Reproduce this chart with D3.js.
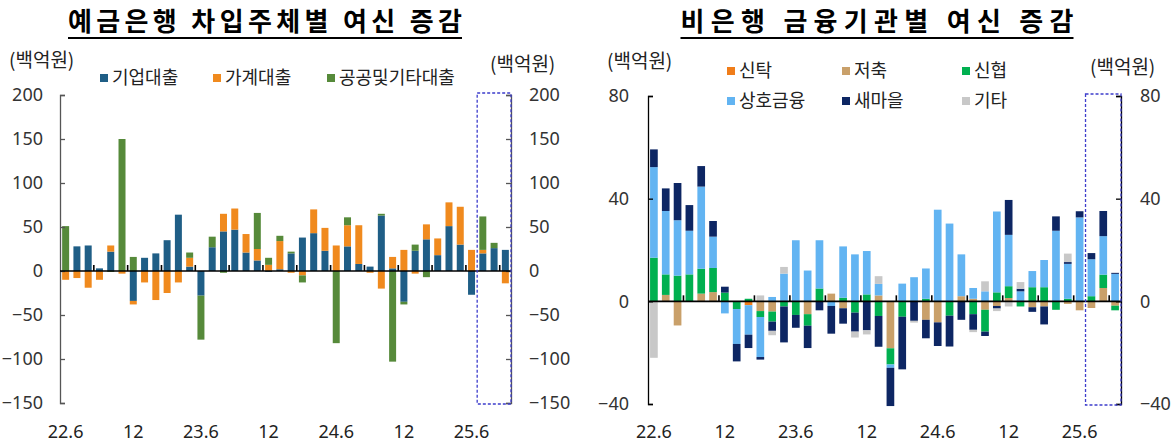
<!DOCTYPE html>
<html><head><meta charset="utf-8">
<script src="https://cdn.jsdelivr.net/npm/d3@7"></script>
<style>
html,body{margin:0;padding:0;background:#fff;}
svg{display:block;font-family:'Noto Sans CJK KR','Noto Sans',sans-serif;}
</style></head>
<body>
<svg id="chart" width="1174" height="443"></svg>
<script>
// ---------------- DATA ----------------
const categories = ["22.6","22.7","22.8","22.9","22.10","22.11","22.12",
  "23.1","23.2","23.3","23.4","23.5","23.6","23.7","23.8","23.9","23.10","23.11","23.12",
  "24.1","24.2","24.3","24.4","24.5","24.6","24.7","24.8","24.9","24.10","24.11","24.12",
  "25.1","25.2","25.3","25.4","25.5","25.6","25.7","25.8","25.9"];
const tickCats = ["22.6","22.12","23.6","23.12","24.6","24.12","25.6"];
const tickTexts = ["22.6","12","23.6","12","24.6","12","25.6"];
const highlightCats = ["25.7","25.8","25.9"];

// Left panel: 예금은행 차입주체별 (백억원)
const leftTitle = "예금은행 차입주체별 여신 증감";
const leftSeriesNames = ["기업대출","가계대출","공공및기타대출"];
const corpLoans = [0,28,29,3,22,0,-34,15,20,35,64,5,-28,27,45,47,21,12,-1,2,
  20,38,43,23,0,28,8,5,63,3,-35,23,36,18,51,30,-27,20,26,24];
const householdLoans = [-10,-8,-19,-10,7,-3,-4,-13,-33,-25,-13,10,0,0,20,24,21,13,7,32,
  -2,-5,27,26,29,24,44,-2,-20,13,24,-3,17,19,27,43,24,4,0,-14];
const publicOtherLoans = [51,0,0,0,-1,150,16,0,0,0,0,6,-50,12,-2,0,0,41,8,6,
  2,-8,0,0,-82,9,0,0,2,-103,-3,7,-7,0,0,0,0,38,6,0];
const leftTicks = [-150,-100,-50,0,50,100,150,200];

// Right panel: 비은행 금융기관별 (백억원)
const rightTitle = "비은행 금융기관별 여신 증감";
const rightSeriesNames = ["신탁","저축","신협","상호금융","새마을","기타"];
const trust = [0,0,0,0,0,0,0,0,-1.5,0,0,0,0,0,0,0,0,0,0,0,
  0,0,0,0,0,0,0,0,0,0,0,0,0,0,0,0,0,0,0,0];
const savingsBanks = [0,2.5,-9.4,0,3,3.6,0,0,0,-3.8,-4,0,0,-5,0,3,-2.7,0,0,2.3,
  -18.3,0,0,-7.2,-8.2,0,2,1,-3.3,-1.8,1.3,0,-2.3,-2,0,-1,-3.5,-2.6,5.2,-1.7];
const creditUnions = [17,8,10,10.5,9.7,9.4,3.4,-3,1,-2.3,-3.9,-2,-5.3,-4.5,5,0,1.4,-4.4,2.7,-5.7,
  -6.3,-6,0,1,0,-5.6,0,-5,-8.5,3.5,4.6,-2,5.5,5.5,-3.3,1,0,2,5.2,-1.8];
const mutualFinance = [35.3,24.7,21.6,17,32,12.2,-4.7,-13.6,-11.5,-15.6,1.7,10.8,23.8,12,18.8,-1.8,20,18.3,16.9,4.5,
  -1.3,6.9,9.4,11.8,35.7,30.3,16.3,4.2,3.9,31.5,20,3.9,6.3,10.6,27.5,13.6,32.7,14.4,15,10.7];
const saemaul = [6.9,8.8,14.5,10,8,6.1,2.3,-6.8,-5.2,-1,-3.6,-14,-5,-8.7,-3.5,-10.8,-6,-7.4,-11.3,-12,
  -14.9,-20.5,-7.6,-7.2,-9.2,-12,-7.2,-6.1,-1.7,-1,13.6,1,-1.8,-7,5.6,0.7,2.4,2.4,9.8,0.4];
const others = [-22,0,0,0,0,0,0,0,0,2.3,-1.7,2.6,0,0,0,0,0,-2.3,-1.6,3,
  0,0,-0.7,0,0,0,0,-0.9,3.9,-1,-2,2.6,0,0,0,3.3,0,0,0,0];
const rightTicks = [-40,0,40,80];

// ---------------- STYLE ----------------
const leftColors = ["#1F5E86","#F08A1E","#568A3A"];
const rightColors = ["#F07D1A","#C9A06A","#00B050","#62B4F2","#0D2663","#C8C8C8"];
const unitLabel = "(백억원)";

const svg = d3.select("#chart");

function buildRows(names, arrays){
  return categories.map((c,i)=>{
    const r = {cat:c};
    names.forEach((n,j)=>{ r[n]=arrays[j][i]; });
    return r;
  });
}

function drawPanel(cfg){
  const g = svg.append("g");
  const x = d3.scaleBand().domain(categories).range(cfg.xRange)
    .paddingInner(cfg.pad).paddingOuter(cfg.pad/2);
  const y = d3.scaleLinear().domain(cfg.yDomain).range(cfg.yRange);
  const rows = buildRows(cfg.names, cfg.arrays);
  const stack = d3.stack().keys(cfg.names).offset(d3.stackOffsetDiverging);
  const series = stack(rows);

  // bars
  g.selectAll("g.series").data(series).join("g")
    .attr("fill",(d,i)=>cfg.colors[i])
    .selectAll("rect").data(d=>d).join("rect")
    .attr("x",d=>x(d.data.cat))
    .attr("width",x.bandwidth())
    .attr("y",d=>y(Math.max(d[0],d[1])))
    .attr("height",d=>Math.abs(y(d[0])-y(d[1])));

  // axes
  const axL = g.append("g").attr("transform",`translate(${cfg.xRange[0]},0)`)
    .call(d3.axisLeft(y).tickValues(cfg.ticks).tickSize(-5).tickPadding(cfg.tickPadL).tickFormat(d3.format("d")));
  const axR = g.append("g").attr("transform",`translate(${cfg.xRange[1]},0)`)
    .call(d3.axisRight(y).tickValues(cfg.ticks).tickSize(-5).tickPadding(cfg.tickPadR).tickFormat(d3.format("d")));
  [axL,axR].forEach(a=>{
    a.select(".domain").attr("stroke",cfg.axisColor).attr("stroke-width",1.3);
    a.selectAll(".tick line").attr("stroke",cfg.axisColor).attr("stroke-width",1.3);
    a.selectAll(".tick text").attr("fill","#333").style("font-size","18px")
      .style("font-family","'Noto Sans','Noto Sans CJK KR',sans-serif");
  });

  // zero line
  const y0 = y(0);
  g.append("line").attr("x1",cfg.xRange[0]).attr("x2",cfg.xRange[1])
    .attr("y1",y0).attr("y2",y0).attr("stroke","#000").attr("stroke-width",1.6);
  // small ticks every 3 months
  const step = x.step();
  d3.range(3,categories.length,3).forEach(k=>{
    const xx = cfg.xRange[0]+k*step;
    g.append("line").attr("x1",xx).attr("x2",xx).attr("y1",y0).attr("y2",y0-6)
      .attr("stroke","#000").attr("stroke-width",1.6);
  });

  // x labels
  const ax = g.append("g").attr("transform",`translate(0,${cfg.xLabelY})`)
    .call(d3.axisBottom(x).tickValues(tickCats).tickSize(0).tickPadding(0)
      .tickFormat(d=>tickTexts[tickCats.indexOf(d)]));
  ax.select(".domain").remove();
  ax.selectAll(".tick text").attr("fill","#222").style("font-size","18px")
    .style("font-family","'Noto Sans','Noto Sans CJK KR',sans-serif");

  // highlight dashed box
  const hx0 = x(highlightCats[0]) - x.step()*cfg.pad/2;
  const hx1 = x(highlightCats[highlightCats.length-1]) + x.bandwidth() + x.step()*cfg.pad/2;
  g.append("rect").attr("x",hx0).attr("y",cfg.yRange[1]-2)
    .attr("width",hx1-hx0).attr("height",cfg.yRange[0]-cfg.yRange[1]+3)
    .attr("fill","none").attr("stroke","#3d3dcc").attr("stroke-width",1.3)
    .attr("stroke-dasharray","3,2");

  // title
  g.append("text").attr("x",cfg.titleX).attr("y",31)
    .attr("text-anchor","middle").attr("font-weight","bold")
    .style("font-size","26px").attr("fill","#000")
    .attr("textLength",cfg.titleW).attr("lengthAdjust","spacing")
    .text(cfg.title);
  g.append("line").attr("x1",cfg.titleX-cfg.titleW/2).attr("x2",cfg.titleX+cfg.titleW/2)
    .attr("y1",38).attr("y2",38).attr("stroke","#000").attr("stroke-width",2);

  // unit labels
  g.append("text").attr("x",cfg.unitL[0]).attr("y",cfg.unitL[1]).style("font-size","19px")
    .attr("fill","#222").text(unitLabel);
  g.append("text").attr("x",cfg.unitR[0]).attr("y",cfg.unitR[1]).style("font-size","19px")
    .attr("fill","#222").text(unitLabel);

  // legend
  cfg.names.forEach((n,i)=>{
    const [lx,ly] = cfg.legendPos[i];
    g.append("rect").attr("x",lx).attr("y",ly-4).attr("width",8).attr("height",8)
      .attr("fill",cfg.colors[i]);
    g.append("text").attr("x",lx+12).attr("y",ly).attr("dy","0.35em")
      .style("font-size","18px").attr("fill","#222").text(n);
  });
}

drawPanel({
  names:leftSeriesNames, arrays:[corpLoans,householdLoans,publicOtherLoans], colors:leftColors,
  xRange:[60,511], yDomain:[-150,200], yRange:[403,95], pad:0.38,
  ticks:leftTicks, tickPadL:17, tickPadR:18, axisColor:"#555",
  xLabelY:425, title:leftTitle, titleX:265, titleW:394,
  unitL:[9,67], unitR:[490,71],
  legendPos:[[100,78],[213,78],[327,78]]
});
drawPanel({
  names:rightSeriesNames, arrays:[trust,savingsBanks,creditUnions,mutualFinance,saemaul,others], colors:rightColors,
  xRange:[648,1121], yDomain:[-40,80], yRange:[404,96], pad:0.35,
  ticks:rightTicks, tickPadL:19, tickPadR:19, axisColor:"#000",
  xLabelY:425, title:rightTitle, titleX:877, titleW:393,
  unitL:[607,68], unitR:[1090,74],
  legendPos:[[727,71],[842,71],[962,71],[727,101],[842,101],[962,101]]
});
</script>
</body></html>
